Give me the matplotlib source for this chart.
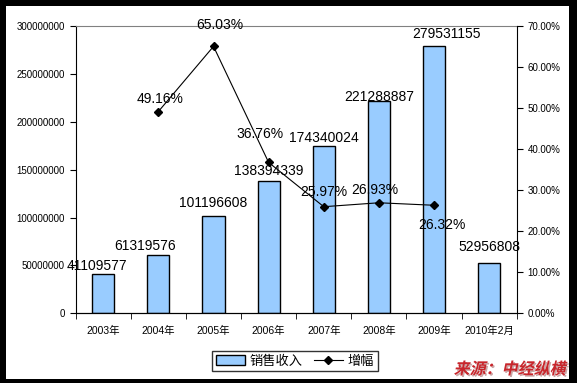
import matplotlib
matplotlib.use("Agg")
import matplotlib.pyplot as plt
from matplotlib.patches import Rectangle, Patch, PathPatch
from matplotlib.lines import Line2D
from matplotlib.textpath import TextPath
from matplotlib.font_manager import FontProperties
from matplotlib.transforms import Affine2D, IdentityTransform
import numpy as np

plt.rcParams['font.family'] = ['Liberation Sans', 'Noto Sans CJK SC', 'DejaVu Sans']

years = ['2003年', '2004年', '2005年', '2006年', '2007年', '2008年', '2009年', '2010年2月']
sales = [41109577, 61319576, 101196608, 138394339, 174340024, 221288887, 279531155, 52956808]
growth_years = ['2004年', '2005年', '2006年', '2007年', '2008年', '2009年']
growth = [49.16, 65.03, 36.76, 25.97, 26.93, 26.32]

# label nudges in pixels (text centre relative to bar top / marker)
bar_lbl_off = [(-6, 8), (-13, 9), (0, 13), (0, 10), (0, 8), (0, 4), (12, 12), (0, 16)]
line_lbl_off = [(2, 13), (6, 21), (-9, 28), (0, 15), (-4, 13), (8, -20)]

fig = plt.figure(figsize=(5.77, 3.83), dpi=100)
fig.patch.set_facecolor('black')
fig.add_artist(Rectangle((6 / 577, 4 / 383), 563 / 577, 373 / 383,
                         transform=fig.transFigure, facecolor='white', edgecolor='none', zorder=0))

ax = fig.add_axes([75.7 / 577, (383 - 313.3) / 383, 441 / 577, 287.3 / 383])
ax.set_facecolor('none')
x = np.arange(len(years))
ax.bar(x, sales, width=0.4, color='#99CCFF', edgecolor='black', linewidth=1, zorder=2)
ax.set_xlim(-0.5, len(years) - 0.5)
ax.set_ylim(0, 300000000)
ax.set_yticks(np.arange(0, 300000001, 50000000))
ax.set_yticklabels([str(v) for v in range(0, 300000001, 50000000)], fontsize=7)
ax.set_xticks(x)
ax.set_xticklabels(years, fontsize=7.5)
ax.set_xticks(np.arange(-0.5, len(years), 1), minor=True)
ax.tick_params(axis='x', which='major', length=0, pad=9)
ax.tick_params(axis='x', which='minor', length=4, direction='out')
ax.tick_params(axis='y', length=4, direction='out', pad=4)
ax.spines['top'].set_color('#808080')
ax.spines['right'].set_visible(False)
for i, v in enumerate(sales):
    dx, dy = bar_lbl_off[i]
    ax.annotate(str(v), (x[i], v), xytext=(dx, dy), textcoords='offset pixels',
                ha='center', va='center', fontsize=10, zorder=5)

ax2 = ax.twinx()
gx = [years.index(y) for y in growth_years]
ax2.plot(gx, growth, color='black', linewidth=0.8, marker='D', markersize=4.5, zorder=4)
ax2.set_ylim(0, 70)
ax2.set_yticks(np.arange(0, 71, 10))
ax2.set_yticklabels(['%.2f%%' % v for v in range(0, 71, 10)], fontsize=7)
ax2.tick_params(axis='y', length=4, direction='out', pad=4)
ax2.spines['top'].set_visible(False)
ax2.spines['left'].set_visible(False)
for i, v in enumerate(growth):
    dx, dy = line_lbl_off[i]
    ax2.annotate('%.2f%%' % v, (gx[i], v), xytext=(dx, dy), textcoords='offset pixels',
                 ha='center', va='center', fontsize=10, zorder=5)

handles = [Patch(facecolor='#99CCFF', edgecolor='black', linewidth=1),
           Line2D([], [], color='black', linewidth=0.8, marker='D', markersize=4.5)]
leg = fig.legend(handles, ['销售收入', '增幅'], loc='center', bbox_to_anchor=(295 / 577, (383 - 361) / 383),
                 ncol=2, frameon=True, fancybox=False, edgecolor='black',
                 handlelength=2.2, handletextpad=0.4, columnspacing=0.8, borderpad=0.25,
                 prop={'family': ['Noto Sans CJK SC'], 'size': 9.5})
leg.get_frame().set_linewidth(1)

# italic-looking watermark (skewed text path, pixel coordinates)
src = '来源：中经纵横'
tp = TextPath((0, 0), src, size=16, prop=FontProperties(family='Noto Sans CJK SC', weight='bold'))
ext = tp.get_extents()
cx, cy = 511, 383 - 368
base = Affine2D().translate(-(ext.x0 + ext.x1) / 2, -(ext.y0 + ext.y1) / 2).skew_deg(12, 0)
fig.add_artist(PathPatch(tp, transform=base + Affine2D().translate(cx + 1.5, cy - 1.5) + IdentityTransform(),
                         facecolor='#8a3a3a', edgecolor='none', alpha=0.45, zorder=3))
fig.add_artist(PathPatch(tp, transform=base + Affine2D().translate(cx, cy) + IdentityTransform(),
                         facecolor='#C8262C', edgecolor='none', zorder=4))

fig.savefig('out.png', dpi=100, facecolor=fig.get_facecolor())
